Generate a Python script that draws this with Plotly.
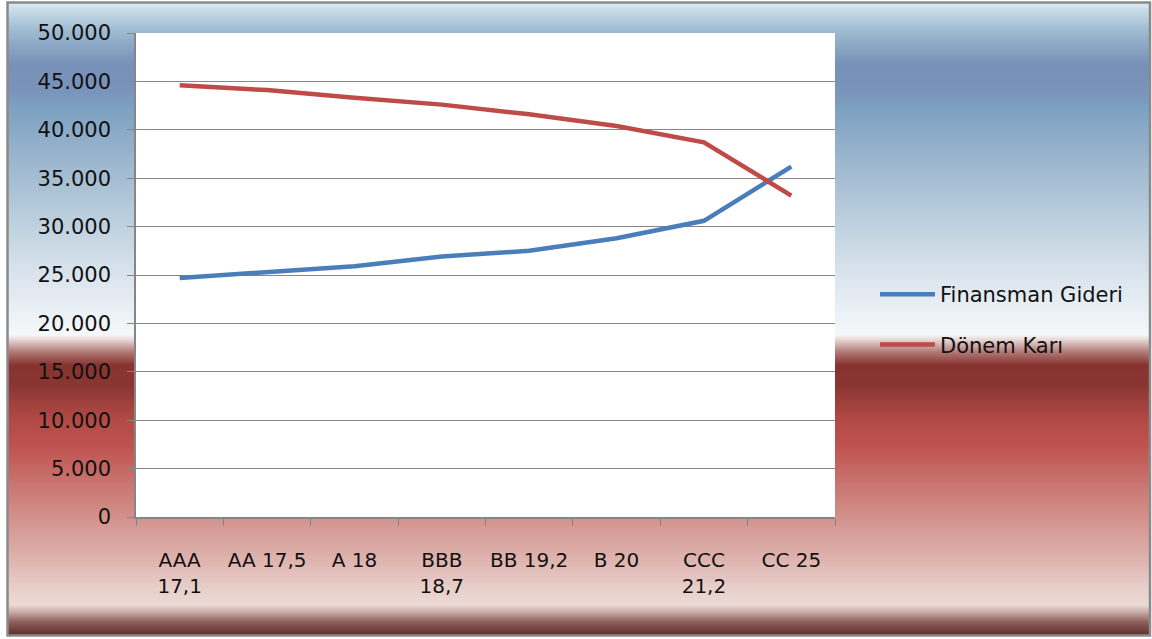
import plotly.graph_objects as go

# Rating categories (rating + rate)
categories = ["AAA<br>17,1", "AA 17,5", "A 18", "BBB<br>18,7",
              "BB 19,2", "B 20", "CCC<br>21,2", "CC 25"]
finansman_gideri = [24700, 25300, 25900, 26900, 27500, 28800, 30600, 36200]
donem_kari = [44600, 44100, 43300, 42600, 41600, 40400, 38700, 33200]

y_tickvals = [0, 5000, 10000, 15000, 20000, 25000, 30000, 35000, 40000, 45000, 50000]

W, H = 1152, 639
M_L, M_R, M_T, M_B = 136, 317, 33, 122
PW, PH = W - M_L - M_R, H - M_T - M_B


def px_x(px):
    return (px - M_L) / PW


def px_y(py):
    return (H - M_B - py) / PH


# Vertical background gradient (pixel row, colour)
grad_stops = [
    (3, "#dde9f2"), (12, "#c5d9e7"), (28, "#a3bfd4"), (45, "#8ba8c5"),
    (65, "#7890b8"), (90, "#7a93bb"), (110, "#7ea2c2"), (160, "#9bb6cd"),
    (220, "#bccfde"), (280, "#dce6ee"), (320, "#eef3f7"), (335, "#f6f8fa"),
    (340, "#e6d4d2"), (352, "#b07a76"), (365, "#87332f"), (385, "#8a3531"),
    (420, "#b24a46"), (445, "#be524e"), (480, "#c8716c"), (520, "#d4938e"),
    (560, "#dfb4af"), (590, "#e8d0cb"), (605, "#ecdad5"), (612, "#c8aca7"),
    (622, "#8e5f5a"), (635, "#5f2f2b"),
]


def hex_rgb(h):
    h = h.lstrip("#")
    return tuple(int(h[i:i + 2], 16) for i in (0, 2, 4))


def color_at(py):
    for (y0, c0), (y1, c1) in zip(grad_stops, grad_stops[1:]):
        if y0 <= py <= y1:
            t = (py - y0) / (y1 - y0) if y1 > y0 else 0
            a, b = hex_rgb(c0), hex_rgb(c1)
            r = [round(a[i] + (b[i] - a[i]) * t) for i in range(3)]
            return "rgb(%d,%d,%d)" % tuple(r)
    return grad_stops[-1][1]


shapes = []
for py in range(3, 635):
    shapes.append(dict(
        type="rect", xref="paper", yref="paper", layer="below",
        x0=px_x(8), x1=px_x(1150), y0=px_y(py + 1.02), y1=px_y(py),
        fillcolor=color_at(py + 0.5), line=dict(width=0),
    ))
# white plotting area
shapes.append(dict(type="rect", xref="paper", yref="paper", layer="below",
                   x0=0, x1=1, y0=0, y1=1, fillcolor="white", line=dict(width=0)))
# outer frame
shapes.append(dict(type="rect", xref="paper", yref="paper", layer="above",
                   x0=px_x(7.5), x1=px_x(1150), y0=px_y(635.5), y1=px_y(2.5),
                   fillcolor="rgba(0,0,0,0)", line=dict(color="#8a8a8a", width=2.5)))

fig = go.Figure()
fig.add_trace(go.Scatter(
    x=categories, y=finansman_gideri, name="Finansman Gideri", mode="lines",
    line=dict(color="#4a7ebb", width=4.5), legendgroup="a",
))
fig.add_trace(go.Scatter(
    x=categories, y=donem_kari, name="Dönem Karı", mode="lines",
    line=dict(color="#be4b48", width=4.5), legendgroup="b",
))

x_font = dict(family="DejaVu Sans", size=20, color="#111111")
y_font = dict(family="DejaVu Sans", size=21, color="#111111")

fig.update_layout(
    width=W, height=H,
    margin=dict(l=M_L, r=M_R, t=M_T, b=M_B),
    paper_bgcolor="white", plot_bgcolor="white",
    separators=",.",
    showlegend=True,
    legend=dict(
        x=px_x(875), xanchor="left", y=px_y(274), yanchor="top",
        font=dict(family="DejaVu Sans", size=21, color="#111111"),
        bgcolor="rgba(0,0,0,0)", traceorder="grouped", tracegroupgap=20,
        itemwidth=55,
    ),
    shapes=shapes,
    xaxis=dict(
        type="category", showgrid=False, showline=True, linecolor="#868686",
        linewidth=1.5, ticks="outside", tickson="boundaries", ticklen=7,
        tickcolor="#868686", tickfont=x_font, ticklabelstandoff=24,
        tickangle=0, range=[-0.5, len(categories) - 0.5],
    ),
    yaxis=dict(
        range=[0, 50000], tickvals=y_tickvals, tickformat=",d",
        showgrid=True, gridcolor="#868686", gridwidth=1,
        showline=True, linecolor="#868686", linewidth=1.5,
        ticks="outside", ticklen=7, tickcolor="#868686",
        tickfont=y_font, zeroline=False, ticklabelstandoff=12,
    ),
)

fig.write_html("out.html")
